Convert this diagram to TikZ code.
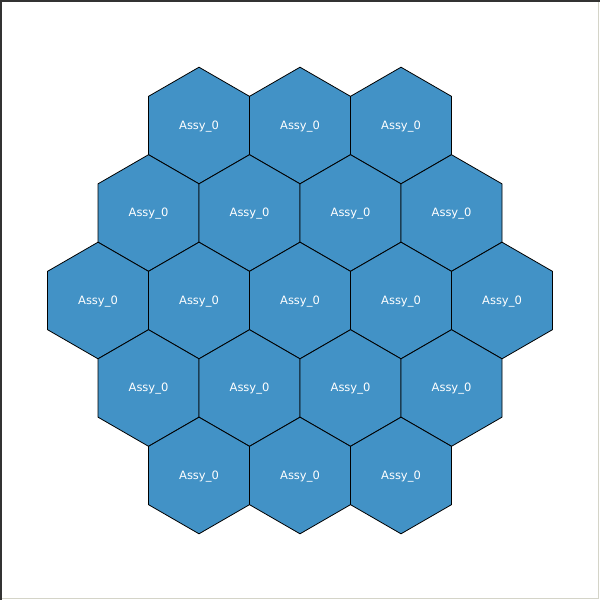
\documentclass[tikz,border=0pt]{standalone}
\usepackage{fontspec}
\setsansfont{DejaVu Sans}
\definecolor{hexfill}{HTML}{4292C6}
\definecolor{frameR}{HTML}{D4D4C8}
\begin{document}
\begin{tikzpicture}[x=1pt,y=-1pt,
  hexcell/.style={fill=hexfill,draw=black,line width=0.8pt,line join=miter},
  hexlabel/.style={text=white,font=\sffamily\fontsize{11.5}{12}\selectfont,inner sep=0pt,anchor=base}]
\useasboundingbox (0,0) rectangle (600,600);
\fill[white] (0,0) rectangle (600,600);
\draw[frameR,line width=1.5pt] (598.5,0) -- (598.5,598.5) -- (0,598.5);
\draw[black!80,line width=1.5pt] (0.75,600) -- (0.75,0.75) -- (600,0.75);
\def\R{58.3}
\def\A{50.5}
\foreach \cx/\cy/\nm in {199/125.5/a1,300/125.5/a2,401/125.5/a3,
  148.5/213/b1,249.5/213/b2,350.5/213/b3,451.5/213/b4,
  98/300.5/c1,199/300.5/c2,300/300.5/c3,401/300.5/c4,502/300.5/c5,
  148.5/388/d1,249.5/388/d2,350.5/388/d3,451.5/388/d4,
  199/475.5/e1,300/475.5/e2,401/475.5/e3}{
  \draw[hexcell] (\cx,\cy-\R) -- (\cx+\A,\cy-\R/2) -- (\cx+\A,\cy+\R/2) -- (\cx,\cy+\R) -- (\cx-\A,\cy+\R/2) -- (\cx-\A,\cy-\R/2) -- cycle;
  \node[hexlabel] (\nm) at (\cx,\cy+3.5) {Assy\_0};
}
\end{tikzpicture}
\end{document}
